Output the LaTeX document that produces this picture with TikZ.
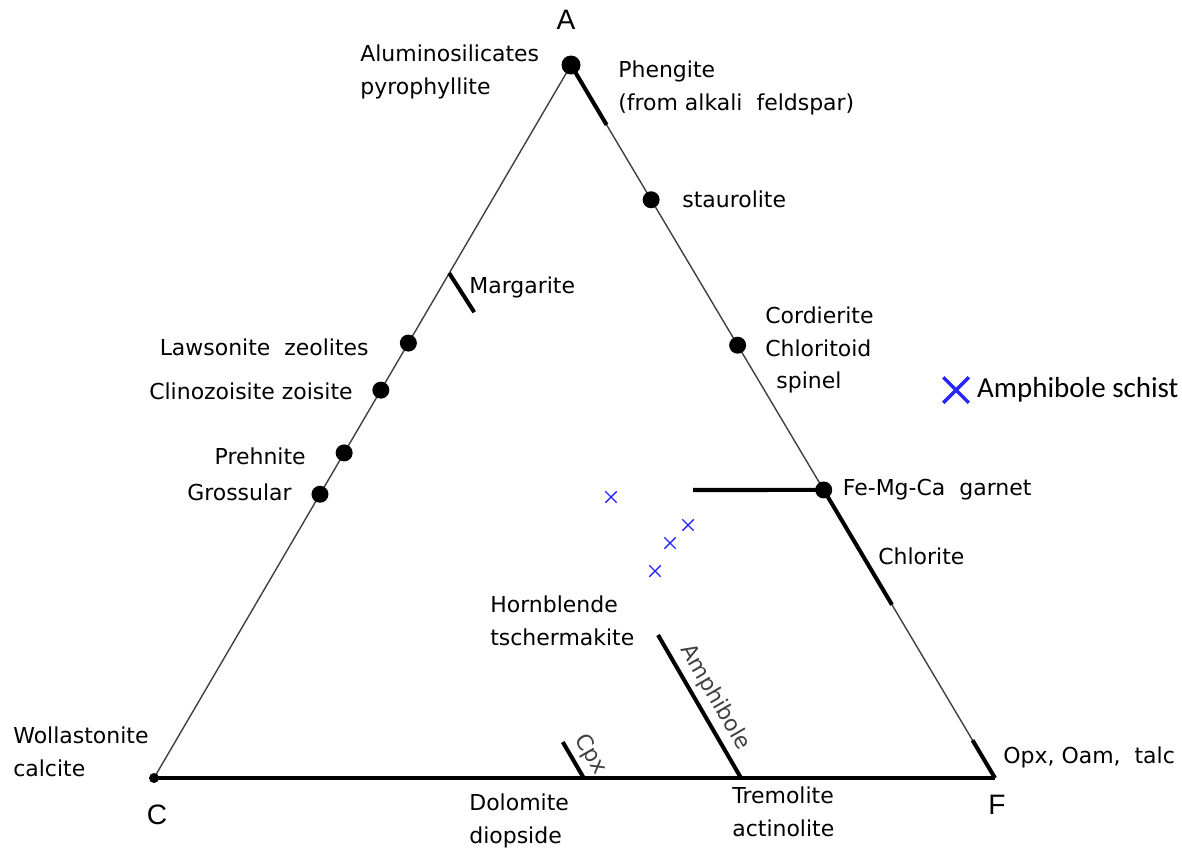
\documentclass[tikz,border=0pt]{standalone}
\usepackage{fontspec}
\setmainfont{DejaVu Sans}
\newfontfamily\keyfont{Carlito}
\newfontfamily\vtxfont{Liberation Sans}
\usetikzlibrary{calc}
\usetikzlibrary{positioning}
\usetikzlibrary{shapes.misc}

\begin{document}
\begin{tikzpicture}[x=0.02cm, y=-0.02cm,
edge/.style = {draw=black!75, line width=0.8pt},
base/.style = {draw=black, line width=1.8pt},
heavy/.style = {draw=black, line width=2.3pt},
dot/.style = {circle, fill=black, inner sep=0pt, minimum size=0.34cm},
lbl/.style = {font=\fontsize{12.5}{18.7}\selectfont, inner sep=0pt, align=left},
vtx/.style = {font=\vtxfont\fontsize{16}{18}\selectfont, inner sep=0pt},
smp/.style = {cross out, draw=blue!85, line width=0.8pt, minimum size=0.2cm, inner sep=0pt}
]
\useasboundingbox (0,0) rectangle (1182,849);

% corners of the triangle
\coordinate (A) at (571,65);
\coordinate (C) at (154,778);
\coordinate (F) at (995,778);

\draw[edge] (A) -- (C);
\draw[edge] (A) -- (F);
\draw[base] (C) -- (F);

% points on the sides
\coordinate (phe) at ($(A)!0.084!(F)$);
\coordinate (chl) at ($(A)!0.757!(F)$);
\coordinate (opx) at ($(A)!0.947!(F)$);
\coordinate (mrg) at ($(A)!0.292!(C)$);
\coordinate (mrgend) at ($(mrg)+(25,39)$);
\coordinate (tre) at ($(C)!0.698!(F)$);
\coordinate (hbl) at ($(tre)+(-83,-143)$);
\coordinate (di) at ($(C)!0.511!(F)$);
\coordinate (cpx) at ($(di)+(-21,-36)$);
\coordinate (grt) at (693,490);
\coordinate (garpt) at ($(A)!0.596!(F)$);

\draw[heavy] (A) -- (phe);
\draw[heavy] (garpt) -- (chl);
\draw[heavy] (opx) -- (F);
\draw[heavy] (mrg) -- (mrgend);
\draw[heavy] (grt) -- (garpt);
\draw[heavy] (hbl) -- node[lbl, sloped, above=3pt, text=black!75] {Amphibole} (tre);
\draw[heavy] (cpx) -- node[lbl, sloped, above=3pt, pos=0.6, text=black!75] {Cpx} (di);

\node (alu) [dot, minimum size=0.38cm] at (A) {};
\node (stau) [dot] at ($(A)!0.189!(F)$) {};
\node (cord) [dot] at ($(A)!0.393!(F)$) {};
\node (gar) [dot] at (garpt) {};
\node (law) [dot] at ($(A)!0.39!(C)$) {};
\node (czo) [dot] at ($(A)!0.456!(C)$) {};
\node (prh) [dot] at ($(A)!0.544!(C)$) {};
\node (grs) [dot] at ($(A)!0.602!(C)$) {};
\node (wol) [dot, minimum size=0.2cm] at (C) {};

% analysed samples
\node (s1) [smp] at (611,497) {};
\node (s2) [smp] at (688,525) {};
\node (s3) [smp] at (670,543) {};
\node (s4) [smp] at (655,571) {};

\node (key) [smp, line width=2pt, minimum size=0.44cm] at (956,390) {};
\node (keytxt) [right=0.16cm of key, inner sep=0pt, font=\keyfont\fontsize{16.5}{20}\selectfont] {Amphibole schist};

% labels
\node (alulbl) [lbl, anchor=west] at (360,72) {Aluminosilicates\\pyrophyllite};
\node (phelbl) [lbl, anchor=west] at (618,88) {Phengite\\(from alkali\ \ feldspar)};
\node (staulbl) [lbl, right=0.44cm of stau] {staurolite};
\node (mrglbl) [lbl, anchor=west] at (469,287) {Margarite};
\node (cordlbl) [lbl, anchor=west] at (765,350) {Cordierite\\Chloritoid\\\hspace*{0.22cm}spinel};
\node (lawlbl) [lbl, anchor=east] at (369,347) {Lawsonite\ \ zeolites};
\node (czolbl) [lbl, anchor=east] at (353,391) {Clinozoisite zoisite};
\node (prhlbl) [lbl, anchor=east] at (306,456) {Prehnite};
\node (grslbl) [lbl, anchor=east] at (292,492) {Grossular};
\node (garlbl) [lbl, right=0.2cm of gar] {Fe-Mg-Ca\ \ garnet};
\node (chllbl) [lbl, anchor=west] at (878,556) {Chlorite};
\node (hbllbl) [lbl, anchor=west] at (490,621) {Hornblende\\tschermakite};
\node (wollbl) [lbl, anchor=west] at (13,752) {Wollastonite\\calcite};
\node (dollbl) [lbl, anchor=west] at (469,821) {Dolomite\\diopside};
\node (trelbl) [lbl, anchor=west] at (732,812) {Tremolite\\actinolite};
\node (opxlbl) [lbl, anchor=west] at (1003,757) {Opx, Oam,\ \ talc};

\node (Albl) [vtx] at (566,20) {A};
\node (Clbl) [vtx] at (157,815) {C};
\node (Flbl) [vtx] at (997,805) {F};
\end{tikzpicture}
\end{document}
